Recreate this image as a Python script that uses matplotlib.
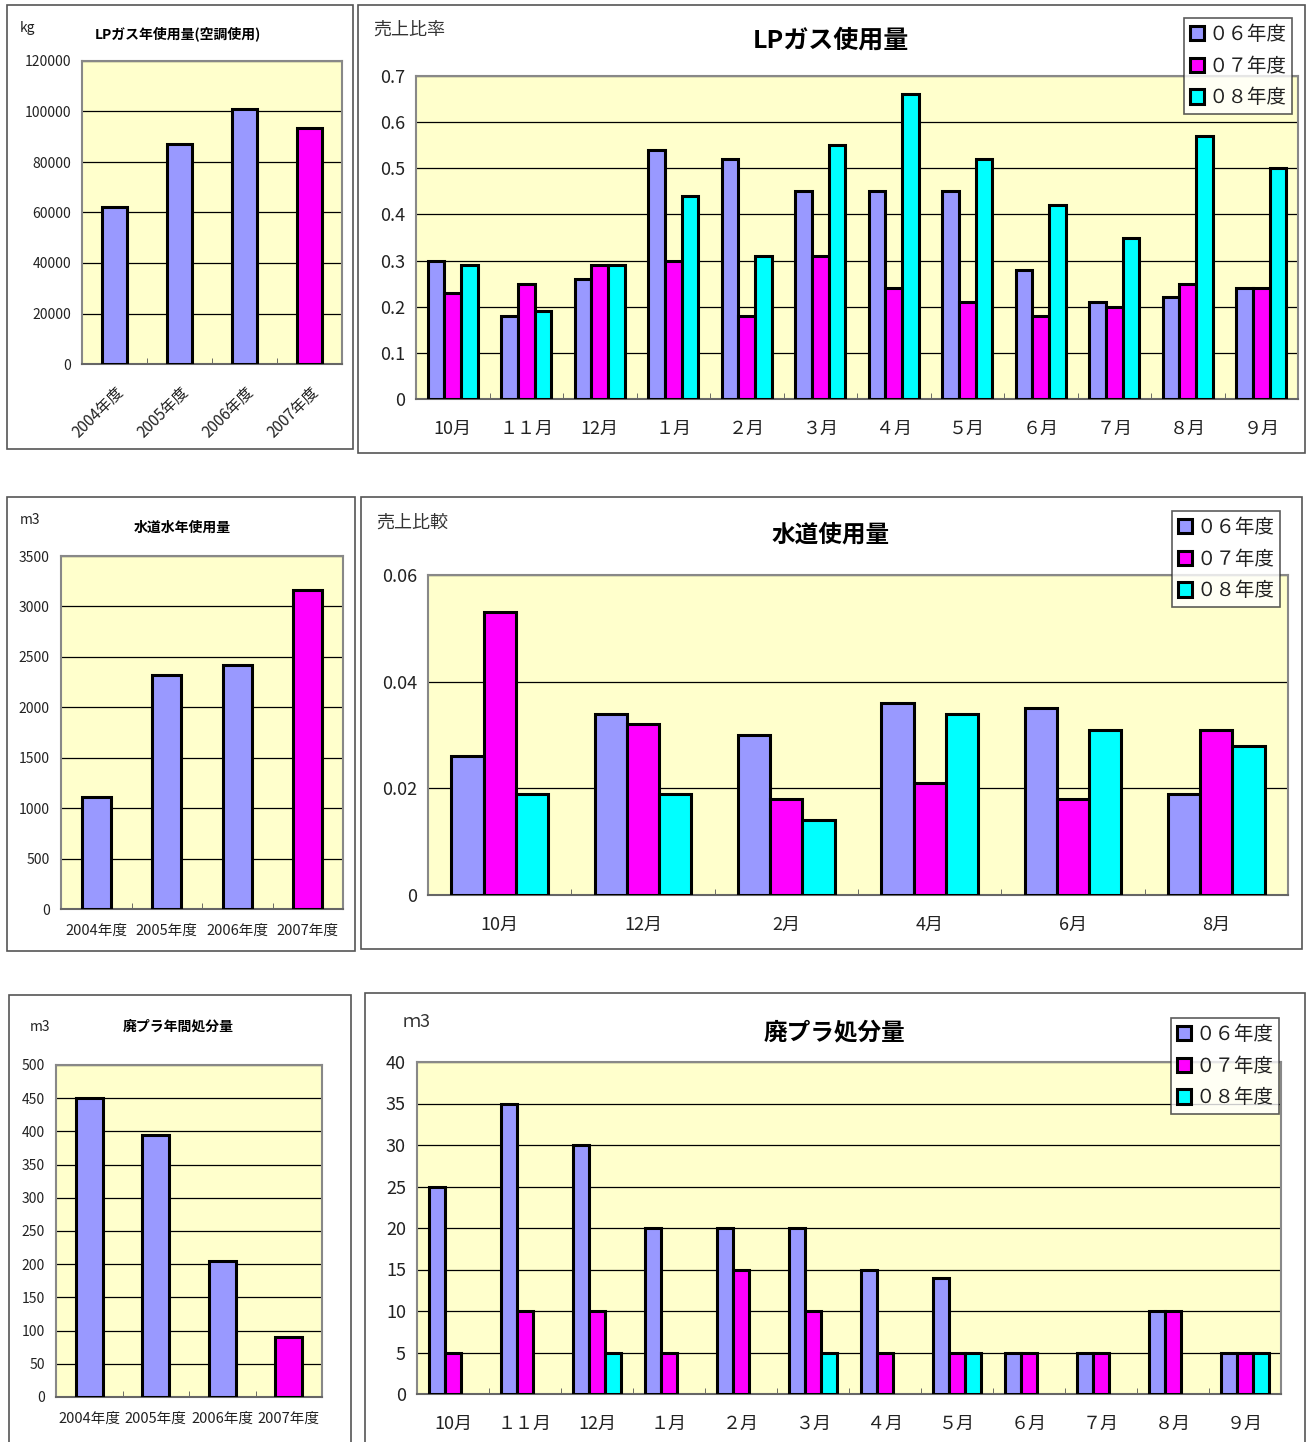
import numpy as np
import matplotlib
matplotlib.use("Agg")
import matplotlib.pyplot as plt
from matplotlib.patches import Rectangle, Patch

plt.rcParams['font.family'] = ['Noto Sans CJK JP', 'DejaVu Sans']

# ---------------- data ----------------
years = ['2004年度', '2005年度', '2006年度', '2007年度']
lp_annual = [62000, 87000, 101000, 93500]
water_annual = [1110, 2320, 2415, 3160]
plastic_annual = [450, 395, 205, 90]

months12 = ['10月', '１１月', '12月', '１月', '２月', '３月', '４月', '５月', '６月', '７月', '８月', '９月']
months6 = ['10月', '12月', '2月', '4月', '6月', '8月']
series_names = ['０６年度', '０７年度', '０８年度']

lp_06 = [0.30, 0.18, 0.26, 0.54, 0.52, 0.45, 0.45, 0.45, 0.28, 0.21, 0.22, 0.24]
lp_07 = [0.23, 0.25, 0.29, 0.30, 0.18, 0.31, 0.24, 0.21, 0.18, 0.20, 0.25, 0.24]
lp_08 = [0.29, 0.19, 0.29, 0.44, 0.31, 0.55, 0.66, 0.52, 0.42, 0.35, 0.57, 0.50]

water_06 = [0.026, 0.034, 0.030, 0.036, 0.035, 0.019]
water_07 = [0.053, 0.032, 0.018, 0.021, 0.018, 0.031]
water_08 = [0.019, 0.019, 0.014, 0.034, 0.031, 0.028]

pl_06 = [25, 35, 30, 20, 20, 20, 15, 14, 5, 5, 10, 5]
pl_07 = [5, 10, 10, 5, 15, 10, 5, 5, 5, 5, 10, 5]
pl_08 = [np.nan, np.nan, 5, np.nan, np.nan, 5, np.nan, 5, np.nan, np.nan, np.nan, 5]

# ---------------- style ----------------
C06 = '#9999FF'
C07 = '#FF00FF'
C08 = '#00FFFF'
BG = '#FFFFCC'
COLORS = [C06, C07, C08]

W, H = 1308, 1442
fig = plt.figure(figsize=(W / 100, H / 100), dpi=100)
fig.patch.set_facecolor('white')


def ax_at(x0, y0, x1, y1):
    return fig.add_axes([x0 / W, 1 - y1 / H, (x1 - x0) / W, (y1 - y0) / H])


def frame(x0, y0, x1, y1):
    fig.patches.append(Rectangle((x0 / W, 1 - y1 / H), (x1 - x0) / W, (y1 - y0) / H,
                                 transform=fig.transFigure, fill=False,
                                 edgecolor='#555555', lw=1.2, zorder=0))


def ftext(x, y, s, **kw):
    fig.text(x / W, 1 - y / H, s, **kw)


def style_axes(ax, ymax, step, labelsize, fmt=None):
    ax.set_facecolor(BG)
    ax.set_ylim(0, ymax)
    ticks = np.arange(0, ymax + step / 2, step)
    ax.set_yticks(ticks)
    if fmt is not None:
        ax.set_yticklabels([fmt(t) for t in ticks])
    for t in ticks[1:]:
        ax.axhline(t, color='black', lw=0.9, zorder=1)
    for s in ['top', 'right', 'left']:
        ax.spines[s].set_color('#888888')
        ax.spines[s].set_linewidth(1.5)
    ax.spines['bottom'].set_color('#666666')
    ax.spines['bottom'].set_linewidth(1.5)
    ax.tick_params(axis='y', length=0, labelsize=labelsize, pad=8, labelcolor='#222222')
    ax.tick_params(axis='x', which='major', length=0, labelsize=labelsize, labelcolor='#222222')
    ax.tick_params(axis='x', which='minor', length=4, direction='in', color='#555555')


def annual(ax, vals, ymax, step, labelsize, rot=0, width=0.4):
    x = np.arange(len(vals))
    colors = [C06] * (len(vals) - 1) + [C07]
    ax.bar(x, vals, width=width, color=colors, edgecolor='black', linewidth=2.2, zorder=3)
    ax.set_xlim(-0.5, len(vals) - 0.5)
    style_axes(ax, ymax, step, labelsize)
    ax.set_xticks(x)
    ax.set_xticks(np.arange(0.5, len(vals) - 0.5, 1), minor=True)
    if rot:
        ax.set_xticklabels(years, rotation=45, ha='right', rotation_mode='anchor', fontsize=11)
        ax.tick_params(axis='x', which='major', pad=14)
    else:
        ax.set_xticklabels(years, fontsize=10.5)
        ax.tick_params(axis='x', which='major', pad=11)


def grouped(ax, labels, series, ymax, step, labelsize, fmt=None, bw=0.225):
    n = len(labels)
    x = np.arange(n)
    for i, (vals, c) in enumerate(zip(series, COLORS)):
        ax.bar(x + (i - 1) * bw, vals, width=bw, color=c, edgecolor='black',
               linewidth=2.2, zorder=3)
    ax.set_xlim(-0.5, n - 0.5)
    style_axes(ax, ymax, step, labelsize, fmt)
    ax.set_xticks(x)
    ax.set_xticklabels(labels)
    ax.set_xticks(np.arange(0.5, n - 0.5, 1), minor=True)
    ax.tick_params(axis='x', which='major', pad=15)


def legend(x1, y0, fs):
    handles = [Patch(facecolor=c, edgecolor='black', linewidth=2.2) for c in COLORS]
    leg = fig.legend(handles, series_names, loc='upper right',
                     bbox_to_anchor=(x1 / W, 1 - y0 / H), fontsize=fs,
                     frameon=True, fancybox=False, handlelength=0.75, handleheight=0.75,
                     handletextpad=0.2, labelspacing=0.55, borderpad=0.3,
                     borderaxespad=0)
    leg.get_frame().set_edgecolor('#333333')
    leg.get_frame().set_linewidth(1.2)
    for t in leg.get_texts():
        t.set_color('#222222')


# ---------------- top row ----------------
frame(7, 5, 353, 449)
ax1 = ax_at(82, 61, 342, 364)
annual(ax1, lp_annual, 120000, 20000, 10, rot=45, width=0.39)
ftext(20, 28, 'kg', fontsize=10, ha='left', va='center', color='#222222')
ftext(178, 34, 'LPガス年使用量(空調使用)', fontsize=10, fontweight='bold', ha='center', va='center')

frame(358, 5, 1305, 453)
ax2 = ax_at(416, 76, 1298, 399)
grouped(ax2, months12, [lp_06, lp_07, lp_08], 0.7, 0.1, 13,
        fmt=lambda t: '0' if t == 0 else f'{t:.1f}')
ftext(373, 30, '売上比率', fontsize=13, ha='left', va='center', color='#333333')
ftext(831, 41, 'LPガス使用量', fontsize=18, fontweight='bold', ha='center', va='center')
legend(1292, 18, 14)

# ---------------- middle row ----------------
frame(7, 497, 355, 951)
ax3 = ax_at(61, 556, 343, 909)
annual(ax3, water_annual, 3500, 500, 10, width=0.41)
ftext(20, 520, 'm3', fontsize=10, ha='left', va='center', color='#222222')
ftext(182, 528, '水道水年使用量', fontsize=10, fontweight='bold', ha='center', va='center')

frame(361, 497, 1302, 949)
ax4 = ax_at(428, 575, 1288, 895)
grouped(ax4, months6, [water_06, water_07, water_08], 0.06, 0.02, 13,
        fmt=lambda t: '0' if t == 0 else f'{t:.2f}')
ftext(376, 523, '売上比較', fontsize=13, ha='left', va='center', color='#333333')
ftext(831, 535, '水道使用量', fontsize=17, fontweight='bold', ha='center', va='center')
legend(1280, 511, 14)

# ---------------- bottom row ----------------
frame(9, 995, 351, 1448)
ax5 = ax_at(56, 1065, 322, 1397)
annual(ax5, plastic_annual, 500, 50, 10, width=0.40)
ftext(30, 1027, 'm3', fontsize=10, ha='left', va='center', color='#222222')
ftext(178, 1027, '廃プラ年間処分量', fontsize=10, fontweight='bold', ha='center', va='center')

frame(365, 993, 1305, 1448)
ax6 = ax_at(417, 1062, 1281, 1394)
grouped(ax6, months12, [pl_06, pl_07, pl_08], 40, 5, 13, bw=0.22)
ftext(403, 1022, 'ｍ3', fontsize=13, ha='left', va='center', color='#333333')
ftext(835, 1032, '廃プラ処分量', fontsize=17, fontweight='bold', ha='center', va='center')
legend(1279, 1018, 14)

fig.savefig('out.png', dpi=100)
